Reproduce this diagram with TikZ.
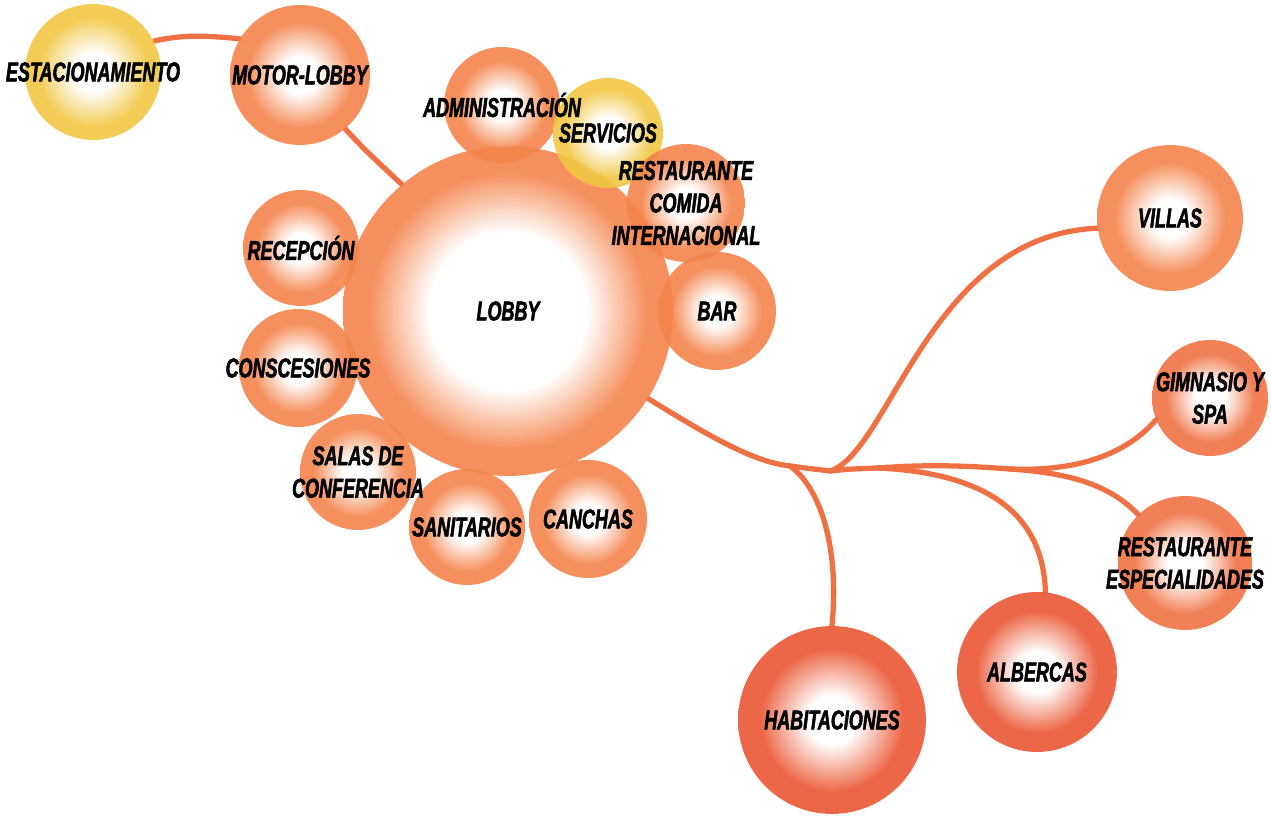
\documentclass[tikz,border=0pt]{standalone}
\usepackage{fontspec}
\newfontfamily\bublabel{Liberation Sans Bold Italic}[FakeStretch=0.66, FakeBold=1.8]
\usetikzlibrary{calc}

\definecolor{orng}{HTML}{F4844C}
\definecolor{deep}{HTML}{EA5733}
\definecolor{midor}{HTML}{F07244}
\definecolor{yel}{HTML}{F1C744}
\definecolor{linecol}{HTML}{EF7143}

\pgfdeclareradialshading{bubor}{\pgfpoint{0bp}{0bp}}{color(0bp)=(white); color(6.5bp)=(white); color(19bp)=(orng); color(50bp)=(orng)}
\pgfdeclareradialshading{bubmid}{\pgfpoint{0bp}{0bp}}{color(0bp)=(white); color(6.5bp)=(white); color(19bp)=(midor); color(50bp)=(midor)}
\pgfdeclareradialshading{bubdeep}{\pgfpoint{0bp}{0bp}}{color(0bp)=(white); color(6.5bp)=(white); color(19bp)=(deep); color(50bp)=(deep)}
\pgfdeclareradialshading{bubyel}{\pgfpoint{0bp}{0bp}}{color(0bp)=(white); color(7bp)=(white); color(20bp)=(yel); color(50bp)=(yel)}
\pgfdeclareradialshading{bublobby}{\pgfpoint{0bp}{0bp}}{color(0bp)=(white); color(12bp)=(white); color(21bp)=(orng); color(50bp)=(orng)}

\pgfdeclarelayer{bg}
\pgfsetlayers{bg,main}

\tikzset{
  bub/.style={circle, inner sep=0pt, minimum size=#1*0.04cm, fill opacity=.9},
  bubtext/.style={font=\bublabel\fontsize{15.5}{18.5}\selectfont, align=center, text=black},
  link/.style={draw=linecol, line width=3pt, line cap=round}
}

\begin{document}
\begin{tikzpicture}[x=0.02cm, y=-0.02cm]
        \useasboundingbox (0,0) rectangle (1271,817);
        % bubbles
        \foreach \nm/\px/\py/\rr/\sh in {lobby/508/311/165/bublobby, estac/93/72/68/bubyel, motor/300/75/70/bubor,
            admin/502/105/58/bubor, serv/608/133/55/bubyel, restint/686/203/59/bubor, bar/717/311/59/bubor,
            recep/301/248/58/bubor, consc/298/368/59/bubor, salas/358/472/58/bubor, sanit/467/527/58/bubor,
            canch/588/519/59/bubor, villas/1170/218/73/bubor, gym/1210/398/58/bubmid,
            resesp/1185/563/67/bubmid, alber/1037/672/80/bubdeep, habit/832/720/94/bubdeep}
            \node[bub=\rr, shading=\sh] (\nm) at (\px,\py) {};
        % labels
        \foreach \nm/\txt in {lobby/LOBBY, estac/ESTACIONAMIENTO, motor/MOTOR-LOBBY, admin/ADMINISTRACIÓN,
            serv/SERVICIOS, restint/{RESTAURANTE\\COMIDA\\INTERNACIONAL}, bar/BAR, recep/RECEPCIÓN,
            consc/CONSCESIONES, salas/{SALAS DE\\CONFERENCIA}, sanit/SANITARIOS, canch/CANCHAS,
            villas/VILLAS, gym/{GIMNASIO Y\\SPA}, resesp/{RESTAURANTE\\ESPECIALIDADES},
            alber/ALBERCAS, habit/HABITACIONES}
            \node[bubtext] (\nm-t) at (\nm) {\txt};
        \begin{pgfonlayer}{bg}
        \coordinate (j1) at (790,466);
        \coordinate (j2) at (830,471);
        \coordinate (j3) at (878,468);
        \coordinate (j4) at (1010,469);
        \draw[link] (estac.27) to[out=12,in=175] (motor.149);
        \draw[link] (motor.-50) .. controls (365,150) .. (lobby.130);
        \draw[link] (lobby.-32) .. controls (715,440) and (755,462) .. (j1);
        \draw[link] (j1) .. controls (817,485) and (840,540) .. (habit.north);
        \draw[link] (j1) .. controls (805,468) .. (j2);
        \draw[link] (j2) .. controls (890,452) and (930,235) .. (villas.188);
        \draw[link] (j2) .. controls (850,469) .. (j3);
        \draw[link] (j3) .. controls (930,464) and (970,466) .. (j4);
        \draw[link] (j3) .. controls (965,472) and (1043,500) .. (alber.84);
        \draw[link] (j4) .. controls (1085,472) and (1130,450) .. (gym.202);
        \draw[link] (j4) .. controls (1070,473) and (1110,485) .. (resesp.134);
        \end{pgfonlayer}
\end{tikzpicture}
\end{document}
